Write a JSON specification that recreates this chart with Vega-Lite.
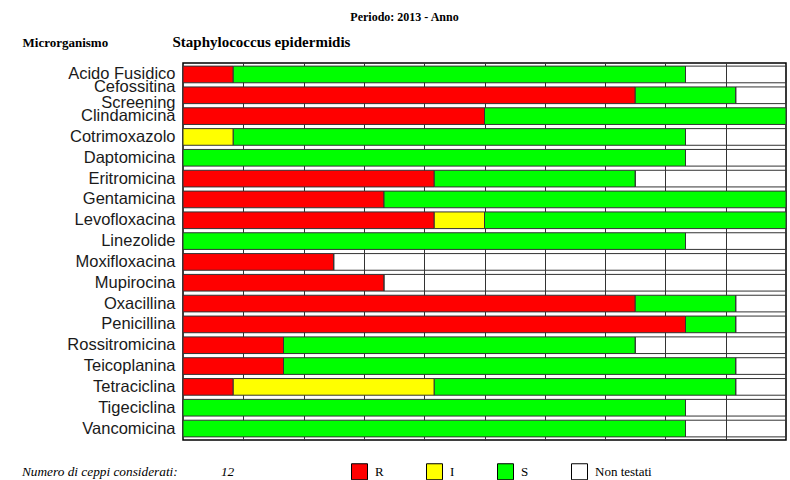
{
  "$schema": "https://vega.github.io/schema/vega-lite/v6.json",
  "width": 603,
  "height": 377,
  "autosize": {"type": "none"},
  "padding": {"left": 183, "top": 63, "right": 4, "bottom": 40},
  "background": "white",
  "config": {
    "view": {"stroke": "#000000", "strokeWidth": 1.5},
    "font": "Liberation Sans"
  },
  "title": {
    "text": "Periodo: 2013 - Anno",
    "font": "Liberation Serif",
    "fontSize": 12,
    "fontWeight": "bold",
    "color": "#000000",
    "anchor": "middle",
    "dx": -80,
    "offset": 10
  },
  "data": {
    "values": [
      {"antibiotico": "Acido Fusidico", "esito": "R", "n": 1},
      {"antibiotico": "Acido Fusidico", "esito": "S", "n": 9},
      {"antibiotico": "Acido Fusidico", "esito": "Non testati", "n": 2},
      {"antibiotico": "Cefossitina Screening", "esito": "R", "n": 9},
      {"antibiotico": "Cefossitina Screening", "esito": "S", "n": 2},
      {"antibiotico": "Cefossitina Screening", "esito": "Non testati", "n": 1},
      {"antibiotico": "Clindamicina", "esito": "R", "n": 6},
      {"antibiotico": "Clindamicina", "esito": "S", "n": 6},
      {"antibiotico": "Cotrimoxazolo", "esito": "I", "n": 1},
      {"antibiotico": "Cotrimoxazolo", "esito": "S", "n": 9},
      {"antibiotico": "Cotrimoxazolo", "esito": "Non testati", "n": 2},
      {"antibiotico": "Daptomicina", "esito": "S", "n": 10},
      {"antibiotico": "Daptomicina", "esito": "Non testati", "n": 2},
      {"antibiotico": "Eritromicina", "esito": "R", "n": 5},
      {"antibiotico": "Eritromicina", "esito": "S", "n": 4},
      {"antibiotico": "Eritromicina", "esito": "Non testati", "n": 3},
      {"antibiotico": "Gentamicina", "esito": "R", "n": 4},
      {"antibiotico": "Gentamicina", "esito": "S", "n": 8},
      {"antibiotico": "Levofloxacina", "esito": "R", "n": 5},
      {"antibiotico": "Levofloxacina", "esito": "I", "n": 1},
      {"antibiotico": "Levofloxacina", "esito": "S", "n": 6},
      {"antibiotico": "Linezolide", "esito": "S", "n": 10},
      {"antibiotico": "Linezolide", "esito": "Non testati", "n": 2},
      {"antibiotico": "Moxifloxacina", "esito": "R", "n": 3},
      {"antibiotico": "Moxifloxacina", "esito": "Non testati", "n": 9},
      {"antibiotico": "Mupirocina", "esito": "R", "n": 4},
      {"antibiotico": "Mupirocina", "esito": "Non testati", "n": 8},
      {"antibiotico": "Oxacillina", "esito": "R", "n": 9},
      {"antibiotico": "Oxacillina", "esito": "S", "n": 2},
      {"antibiotico": "Oxacillina", "esito": "Non testati", "n": 1},
      {"antibiotico": "Penicillina", "esito": "R", "n": 10},
      {"antibiotico": "Penicillina", "esito": "S", "n": 1},
      {"antibiotico": "Penicillina", "esito": "Non testati", "n": 1},
      {"antibiotico": "Rossitromicina", "esito": "R", "n": 2},
      {"antibiotico": "Rossitromicina", "esito": "S", "n": 7},
      {"antibiotico": "Rossitromicina", "esito": "Non testati", "n": 3},
      {"antibiotico": "Teicoplanina", "esito": "R", "n": 2},
      {"antibiotico": "Teicoplanina", "esito": "S", "n": 9},
      {"antibiotico": "Teicoplanina", "esito": "Non testati", "n": 1},
      {"antibiotico": "Tetraciclina", "esito": "R", "n": 1},
      {"antibiotico": "Tetraciclina", "esito": "I", "n": 4},
      {"antibiotico": "Tetraciclina", "esito": "S", "n": 6},
      {"antibiotico": "Tetraciclina", "esito": "Non testati", "n": 1},
      {"antibiotico": "Tigeciclina", "esito": "S", "n": 10},
      {"antibiotico": "Tigeciclina", "esito": "Non testati", "n": 2},
      {"antibiotico": "Vancomicina", "esito": "S", "n": 10},
      {"antibiotico": "Vancomicina", "esito": "Non testati", "n": 2}
    ]
  },
  "transform": [
    {"calculate": "indexof(['R','I','S','Non testati'], datum.esito)", "as": "ord"}
  ],
  "mark": {"type": "bar", "stroke": "#333333", "strokeWidth": 1},
  "encoding": {
    "y": {
      "field": "antibiotico",
      "type": "nominal",
      "sort": ["Acido Fusidico", "Cefossitina Screening", "Clindamicina", "Cotrimoxazolo", "Daptomicina", "Eritromicina", "Gentamicina", "Levofloxacina", "Linezolide", "Moxifloxacina", "Mupirocina", "Oxacillina", "Penicillina", "Rossitromicina", "Teicoplanina", "Tetraciclina", "Tigeciclina", "Vancomicina"],
      "scale": {"paddingInner": 0.2, "paddingOuter": 0.15},
      "axis": {
        "title": "Microrganismo",
        "titleAngle": 0,
        "titleX": -161,
        "titleY": -17,
        "titleAlign": "left",
        "titleBaseline": "alphabetic",
        "titleFont": "Liberation Serif",
        "titleFontSize": 13,
        "titleFontWeight": "bold",
        "titleColor": "#000000",
        "domain": false,
        "ticks": false,
        "labelPadding": 8,
        "labelFont": "Liberation Sans",
        "labelFontSize": 16.5,
        "labelColor": "#1a1a1a",
        "labelLineHeight": 16,
        "labelOffset": {"condition": {"test": "datum.value == 'Cefossitina Screening'", "value": -8}, "value": 0},
        "labelExpr": "datum.value == 'Cefossitina Screening' ? ['Cefossitina', 'Screening'] : datum.label"
      }
    },
    "x": {
      "field": "n",
      "type": "quantitative",
      "stack": "normalize",
      "scale": {"domain": [0, 1], "nice": false},
      "axis": {
        "orient": "top",
        "title": "Staphylococcus epidermidis",
        "titleX": -11,
        "titleY": -17,
        "titleAlign": "left",
        "titleBaseline": "alphabetic",
        "titleFont": "Liberation Serif",
        "titleFontSize": 15,
        "titleFontWeight": "bold",
        "titleColor": "#000000",
        "labels": false,
        "ticks": false,
        "domain": false,
        "grid": true,
        "gridColor": "#333333",
        "gridOpacity": 1,
        "gridWidth": 1,
        "values": [0.1, 0.2, 0.3, 0.4, 0.5, 0.6, 0.7, 0.8, 0.9]
      }
    },
    "color": {
      "field": "esito",
      "type": "nominal",
      "scale": {
        "domain": ["R", "I", "S", "Non testati"],
        "range": ["#ff0000", "#ffff00", "#00ff00", "transparent"]
      },
      "legend": {
        "orient": "none",
        "legendX": -161,
        "legendY": 400,
        "direction": "horizontal",
        "columns": 4,
        "gridAlign": "each",
        "columnPadding": 40,
        "title": "Numero di ceppi considerati:\u00a0\u00a0\u00a0\u00a0\u00a0\u00a0\u00a0\u00a0\u00a0\u00a0\u00a0\u00a0\u00a012",
        "titleOrient": "left",
        "titlePadding": 116,
        "titleLimit": 400,
        "titleFont": "Liberation Serif",
        "titleFontSize": 13.3,
        "titleFontWeight": "normal",
        "titleFontStyle": "italic",
        "titleColor": "#000000",
        "titleBaseline": "middle",
        "symbolType": "square",
        "symbolSize": 256,
        "symbolStrokeColor": "#000000",
        "symbolStrokeWidth": 1,
        "labelFont": "Liberation Serif",
        "labelFontSize": 13,
        "labelColor": "#000000",
        "labelOffset": 7
      }
    },
    "order": {"field": "ord", "type": "quantitative"}
  }
}
